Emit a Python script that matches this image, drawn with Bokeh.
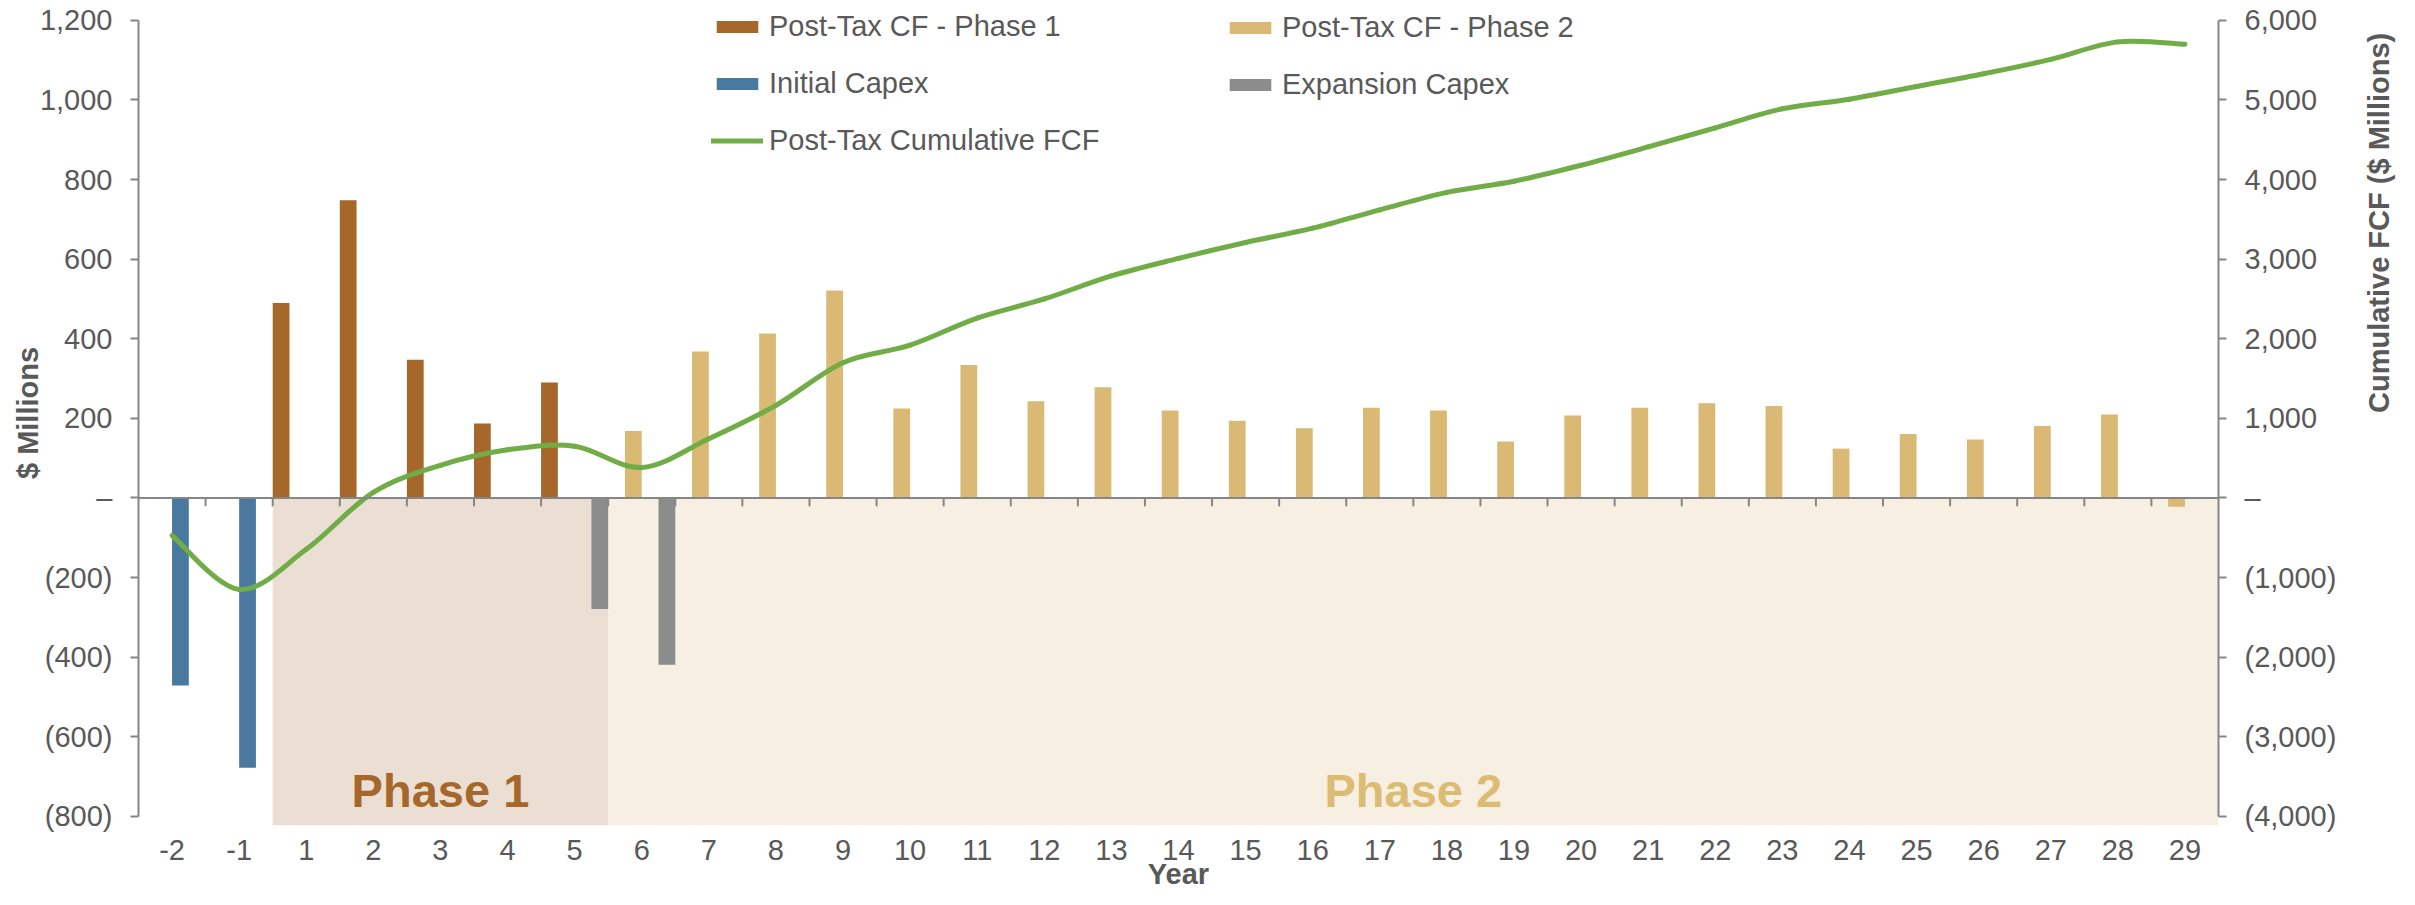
import math
import numpy as np
from bokeh.plotting import figure
from bokeh.models import (ColumnDataSource, Range1d, LinearAxis, FixedTicker, Span,
                          Legend, LegendItem)
from bokeh.transform import dodge
from bokeh.core.properties import value
from bokeh.embed import file_html
from bokeh.resources import INLINE

# ---------------- data ----------------
years = ["-2", "-1", "1", "2", "3", "4", "5", "6", "7", "8", "9", "10", "11", "12", "13",
         "14", "15", "16", "17", "18", "19", "20", "21", "22", "23", "24", "25", "26",
         "27", "28", "29"]
phase1_cf = [0, 0, 490, 748, 347, 187, 290, 0, 0, 0, 0, 0, 0, 0, 0, 0, 0, 0, 0, 0,
             0, 0, 0, 0, 0, 0, 0, 0, 0, 0, 0]
phase2_cf = [0, 0, 0, 0, 0, 0, 0, 168, 368, 413, 521, 225, 334, 243, 278, 220, 194, 175,
             227, 220, 142, 207, 227, 238, 231, 124, 161, 147, 181, 210, -22]
initial_capex = [-471, -678, 0, 0, 0, 0, 0, 0, 0, 0, 0, 0, 0, 0, 0, 0, 0, 0, 0, 0, 0,
                 0, 0, 0, 0, 0, 0, 0, 0, 0, 0]
expansion_capex = [0, 0, 0, 0, 0, 0, -279, -419, 0, 0, 0, 0, 0, 0, 0, 0, 0, 0, 0, 0, 0,
                   0, 0, 0, 0, 0, 0, 0, 0, 0, 0]
cumulative_fcf = [-471, -1149, -645, 70, 410, 605, 650, 383, 745, 1164, 1700, 1920, 2260,
                  2500, 2790, 3010, 3210, 3390, 3620, 3840, 3980, 4180, 4410, 4650, 4890,
                  5010, 5170, 5330, 5510, 5730, 5700]

left_ticks = [-800, -600, -400, -200, 0, 200, 400, 600, 800, 1000, 1200]
left_tick_labels = ["(800)", "(600)", "(400)", "(200)", "\u2013", "200", "400", "600",
                    "800", "1,000", "1,200"]
right_ticks = [-4000, -3000, -2000, -1000, 0, 1000, 2000, 3000, 4000, 5000, 6000]
right_tick_labels = ["(4,000)", "(3,000)", "(2,000)", "(1,000)", "\u2013", "1,000",
                     "2,000", "3,000", "4,000", "5,000", "6,000"]

phase_names = ["Phase 1", "Phase 2"]
phase_first_year = ["1", "6"]
phase_last_year = ["5", "29"]

series_names = ["Post-Tax CF - Phase 1", "Post-Tax CF - Phase 2", "Initial Capex",
                "Expansion Capex", "Post-Tax Cumulative FCF"]
x_title = "Year"
left_title = "$ Millions"
right_title = "Cumulative FCF ($ Millions)"

# ---------------- style ----------------
FONT = "Liberation Sans"
FS = "29px"
TXT = "#595959"
AX = "#868686"
C_P1 = "#A5682A"
C_P2 = "#D9B973"
C_INIT = "#4A79A0"
C_EXP = "#8C8C8C"
C_CUM = "#70AD47"
SHADE = ["#EBDFD3", "#F6EFE2"]
PHASE_TXT = ["#A5682A", "#DCBB72"]

Y_BOTTOM = -823
Y_TOP = 1250
p = figure(width=2415, height=905, output_backend="svg", toolbar_location=None,
           x_range=Range1d(-0.5, len(years) - 0.5), y_range=Range1d(Y_BOTTOM, Y_TOP),
           min_border_left=138, min_border_right=197, min_border_top=0,
           min_border_bottom=80)
p.extra_y_ranges = {"cum": Range1d(Y_BOTTOM * 5, Y_TOP * 5)}
p.xgrid.visible = False
p.ygrid.visible = False
p.outline_line_color = None
p.background_fill_color = "white"
p.border_fill_color = "white"

pos = list(range(len(years)))

# phase shading
sh_left = [years.index(a) - 0.5 for a in phase_first_year]
sh_right = [years.index(b) + 0.5 for b in phase_last_year]
p.quad(left=sh_left, right=sh_right, top=[0, 0], bottom=[Y_BOTTOM, Y_BOTTOM],
       fill_color=SHADE, line_color=None)
p.text(x=[(a + b) / 2 for a, b in zip(sh_left, sh_right)], y=[-735, -735], text=phase_names,
       text_color=PHASE_TXT, text_font=value(FONT), text_font_style="bold",
       text_font_size="47px", text_align="center", text_baseline="middle")

# bars
src = ColumnDataSource(dict(pos=pos, p1=phase1_cf, p2=phase2_cf, ini=initial_capex,
                            exp=expansion_capex))
r_p1 = p.vbar(x=dodge("pos", -0.375, range=p.x_range), top="p1", width=0.25, source=src,
              fill_color=C_P1, line_color=None)
r_p2 = p.vbar(x=dodge("pos", -0.125, range=p.x_range), top="p2", width=0.25, source=src,
              fill_color=C_P2, line_color=None)
r_ini = p.vbar(x=dodge("pos", 0.125, range=p.x_range), top="ini", width=0.25, source=src,
               fill_color=C_INIT, line_color=None)
r_exp = p.vbar(x=dodge("pos", 0.375, range=p.x_range), top="exp", width=0.25, source=src,
               fill_color=C_EXP, line_color=None)

# category axis line at zero with boundary ticks
p.add_layout(Span(location=0, dimension="width", line_color=AX, line_width=2))
bounds_x = [i + 0.5 for i in pos[:-1]]
p.segment(x0=bounds_x, y0=[0] * len(bounds_x), x1=bounds_x, y1=[-21] * len(bounds_x),
          line_color=AX, line_width=2)

# smoothed cumulative line (Excel-style smoothing through the data points)
xs = np.array(pos, dtype=float)
ys = np.array(cumulative_fcf, dtype=float)
n = len(xs)
x0, y0, x1, y1, cx0, cy0, cx1, cy1 = [], [], [], [], [], [], [], []
for i in range(n - 1):
    im = max(i - 1, 0)
    ip2 = min(i + 2, n - 1)
    x0.append(xs[i]); y0.append(ys[i]); x1.append(xs[i + 1]); y1.append(ys[i + 1])
    cx0.append(xs[i] + (xs[i + 1] - xs[im]) / 6); cy0.append(ys[i] + (ys[i + 1] - ys[im]) / 6)
    cx1.append(xs[i + 1] - (xs[ip2] - xs[i]) / 6); cy1.append(ys[i + 1] - (ys[ip2] - ys[i]) / 6)
p.bezier(x0=x0, y0=y0, x1=x1, y1=y1, cx0=cx0, cy0=cy0, cx1=cx1, cy1=cy1,
         line_color=C_CUM, line_width=5, line_cap="round", y_range_name="cum")
# single-point line: invisible in the plot, gives the legend its line sample
r_cum = p.line(x=pos[:1], y=cumulative_fcf[:1], line_color=C_CUM, line_width=5,
               line_cap="round", y_range_name="cum")

# year labels below the plot area
xa = p.xaxis[0]
xa.ticker = FixedTicker(ticks=pos)
xa.major_label_overrides = {i: y for i, y in enumerate(years)}
xa.axis_line_color = None
xa.major_tick_line_color = None
xa.major_tick_out = 0
xa.major_tick_in = 0
xa.minor_tick_line_color = None
xa.major_label_standoff = 14
xa.major_label_text_font = FONT
xa.major_label_text_font_size = FS
xa.major_label_text_color = TXT

ya = p.yaxis[0]
ya.ticker = FixedTicker(ticks=left_ticks)
ya.major_label_overrides = {t: l for t, l in zip(left_ticks, left_tick_labels)}
ya.bounds = (left_ticks[0], left_ticks[-1])

ra = LinearAxis(y_range_name="cum")
ra.ticker = FixedTicker(ticks=right_ticks)
ra.major_label_overrides = {t: l for t, l in zip(right_ticks, right_tick_labels)}
ra.bounds = (right_ticks[0], right_ticks[-1])
p.add_layout(ra, "right")

for ax in (ya, ra):
    ax.axis_line_color = AX
    ax.axis_line_width = 2
    ax.major_tick_line_color = AX
    ax.major_tick_line_width = 2
    ax.major_tick_out = 8
    ax.major_tick_in = 0
    ax.minor_tick_line_color = None
    ax.major_label_standoff = 18
    ax.major_label_text_font = FONT
    ax.major_label_text_font_size = FS
    ax.major_label_text_color = TXT

for ax, title, so in [(xa, x_title, -5), (ya, left_title, -7), (ra, right_title, 40)]:
    ax.axis_label = title
    ax.axis_label_standoff = so
    ax.axis_label_text_font = FONT
    ax.axis_label_text_font_style = "bold"
    ax.axis_label_text_font_size = FS
    ax.axis_label_text_color = TXT
ra.axis_label_orientation = math.pi / 2

# legends
def make_legend(items, x, y):
    lg = Legend(items=items, location=(x, y), orientation="vertical",
                glyph_width=52, glyph_height=15, label_height=32, spacing=24,
                label_standoff=6, padding=0, margin=0,
                label_text_font=FONT, label_text_font_size=FS,
                label_text_color=TXT, border_line_color=None,
                background_fill_alpha=0)
    p.add_layout(lg, "center")

make_legend([LegendItem(label=series_names[0], renderers=[r_p1]),
             LegendItem(label=series_names[2], renderers=[r_ini]),
             LegendItem(label=series_names[4], renderers=[r_cum])], 573, 668)
make_legend([LegendItem(label=series_names[1], renderers=[r_p2]),
             LegendItem(label=series_names[3], renderers=[r_exp])], 1086, 724)

open("out.html", "w").write(file_html(p, INLINE))
